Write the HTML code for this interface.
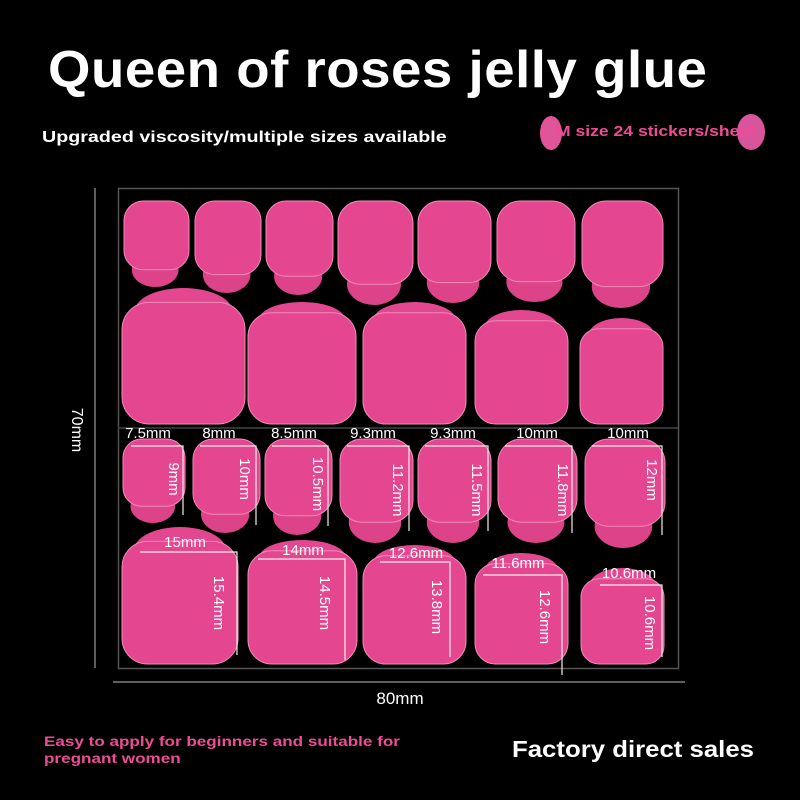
<!DOCTYPE html>
<html><head><meta charset="utf-8"><style>
html,body{margin:0;padding:0;background:#000;}
#c{position:relative;width:800px;height:800px;background:#000;overflow:hidden;font-family:"Liberation Sans","DejaVu Sans",sans-serif;}
.t{position:absolute;white-space:nowrap;transform-origin:0 0;}
</style></head><body><div id="c">
<div class="t" style="left:48px;top:40px;font-size:52px;font-weight:bold;color:#fff;letter-spacing:0.5px;transform:scaleX(1.05);">Queen of roses jelly glue</div>
<div class="t" style="left:42px;top:129px;font-size:16px;font-weight:bold;color:#fff;transform:scaleX(1.23);">Upgraded viscosity/multiple sizes available</div>
<div style="position:absolute;left:540px;top:116px;width:22px;height:34px;border-radius:50%;background:#e0559a;"></div>
<div style="position:absolute;left:737px;top:114px;width:28px;height:36px;border-radius:50%;background:#d8559c;"></div>
<div class="t" style="left:556px;top:123px;font-size:15px;font-weight:bold;color:#ee4c97;transform:scaleX(1.17);">M size 24 stickers/sheet</div>
<svg style="position:absolute;left:0;top:0" width="800" height="800" id="s">
<rect x="118.5" y="188.5" width="560" height="480" fill="none" stroke="#555" stroke-width="1.5"/>
<line x1="118" y1="428" x2="678" y2="428" stroke="#444" stroke-width="1.5"/>
<line x1="95" y1="188" x2="95" y2="668" stroke="#bbb" stroke-width="1"/>
<line x1="113" y1="682" x2="685" y2="682" stroke="#bbb" stroke-width="1"/>
<g id="p"></g>
<g stroke="#eee" stroke-width="1.2" fill="none">
<path d="M131 446H183V515"/><path d="M200 446H256V525"/><path d="M272 446H328V526"/><path d="M347 446H409V531"/><path d="M425 446H488V531"/><path d="M505 446H572V533"/><path d="M592 446H662V535"/>
<path d="M140 552H237V655"/><path d="M258 559H345V660"/><path d="M380 562H450V657"/><path d="M483 575H562V675"/><path d="M600 585H662V657"/>
</g>
<g fill="#fff" font-family="Liberation Sans, sans-serif" font-size="15" text-anchor="middle">
<text x="148" y="438">7.5mm</text><text x="219" y="438">8mm</text><text x="294" y="438">8.5mm</text><text x="373" y="438">9.3mm</text><text x="453" y="438">9.3mm</text><text x="537" y="438">10mm</text><text x="628" y="438">10mm</text>
<text x="185" y="547">15mm</text><text x="303" y="555">14mm</text><text x="416" y="558">12.6mm</text><text x="518" y="568">11.6mm</text><text x="629" y="578">10.6mm</text>
<text transform="translate(169,479) rotate(90)">9mm</text>
<text transform="translate(240,479) rotate(90)">10mm</text>
<text transform="translate(313,484) rotate(90)">10.5mm</text>
<text transform="translate(393,490) rotate(90)">11.2mm</text>
<text transform="translate(472,490) rotate(90)">11.5mm</text>
<text transform="translate(558,490) rotate(90)">11.8mm</text>
<text transform="translate(647,480) rotate(90)">12mm</text>
<text transform="translate(214,603) rotate(90)">15.4mm</text>
<text transform="translate(320,603) rotate(90)">14.5mm</text>
<text transform="translate(432,607) rotate(90)">13.8mm</text>
<text transform="translate(540,617) rotate(90)">12.6mm</text>
<text transform="translate(645,623) rotate(90)">10.6mm</text>
<text transform="translate(72,430) rotate(90)" font-size="16">70mm</text>
<text x="400" y="704" font-size="17">80mm</text>
</g>
</svg>
<div class="t" style="left:44px;top:733px;font-size:14px;font-weight:bold;color:#ee4c97;line-height:17px;transform:scaleX(1.22);">Easy to apply for beginners and suitable for<br>pregnant women</div>
<div class="t" style="left:512px;top:736px;font-size:23px;font-weight:bold;color:#fff;transform:scaleX(1.12);">Factory direct sales</div>
</div>
<script>
var g=document.getElementById('p'),h='';
function down(x1,x2,y1,y2){var w=x2-x1,bb=y1+(y2-y1)*0.8,r=w*0.3;
h+='<ellipse cx="'+(x1+w*0.48)+'" cy="'+(y2-(y2-y1)*0.2)+'" rx="'+w*0.36+'" ry="'+(y2-y1)*0.2+'" fill="#dc4389"/>';
h+='<rect x="'+x1+'" y="'+y1+'" width="'+w+'" height="'+(bb-y1)+'" rx="'+r+'" fill="#e4478f" stroke="#f08ab8" stroke-width="1"/>';}
function up(x1,x2,y1,y2,bump){var w=x2-x1,r=w*0.22;
h+='<ellipse cx="'+(x1+w*0.5)+'" cy="'+(y1+bump*1.5)+'" rx="'+w*0.4+'" ry="'+bump*1.5+'" fill="#e24790"/>';
h+='<rect x="'+x1+'" y="'+(y1+bump*0.9)+'" width="'+w+'" height="'+(y2-y1-bump*0.9)+'" rx="'+r+'" fill="#e4478f" stroke="#f08ab8" stroke-width="1"/>';}
[[124,189,201,287],[195,261,201,293],[266,333,201,295],[338,413,201,305],[418,491,201,303],[497,575,201,302],[582,663,201,308]].forEach(function(a){down.apply(null,a)});
[[123,185,439,523],[193,260,439,533],[265,332,439,535],[340,413,439,543],[418,491,439,543],[498,577,439,543],[585,665,439,548]].forEach(function(a){down.apply(null,a)});
[[122,245,288,424,16],[248,356,302,424,12],[363,466,302,424,12],[475,568,310,424,12],[580,663,318,424,12]].forEach(function(a){up.apply(null,a)});
[[122,238,527,664,16],[248,357,540,664,12],[363,466,545,664,12],[475,568,553,664,12],[581,664,568,664,12]].forEach(function(a){up.apply(null,a)});
g.innerHTML=h;
</script>
</body></html>
